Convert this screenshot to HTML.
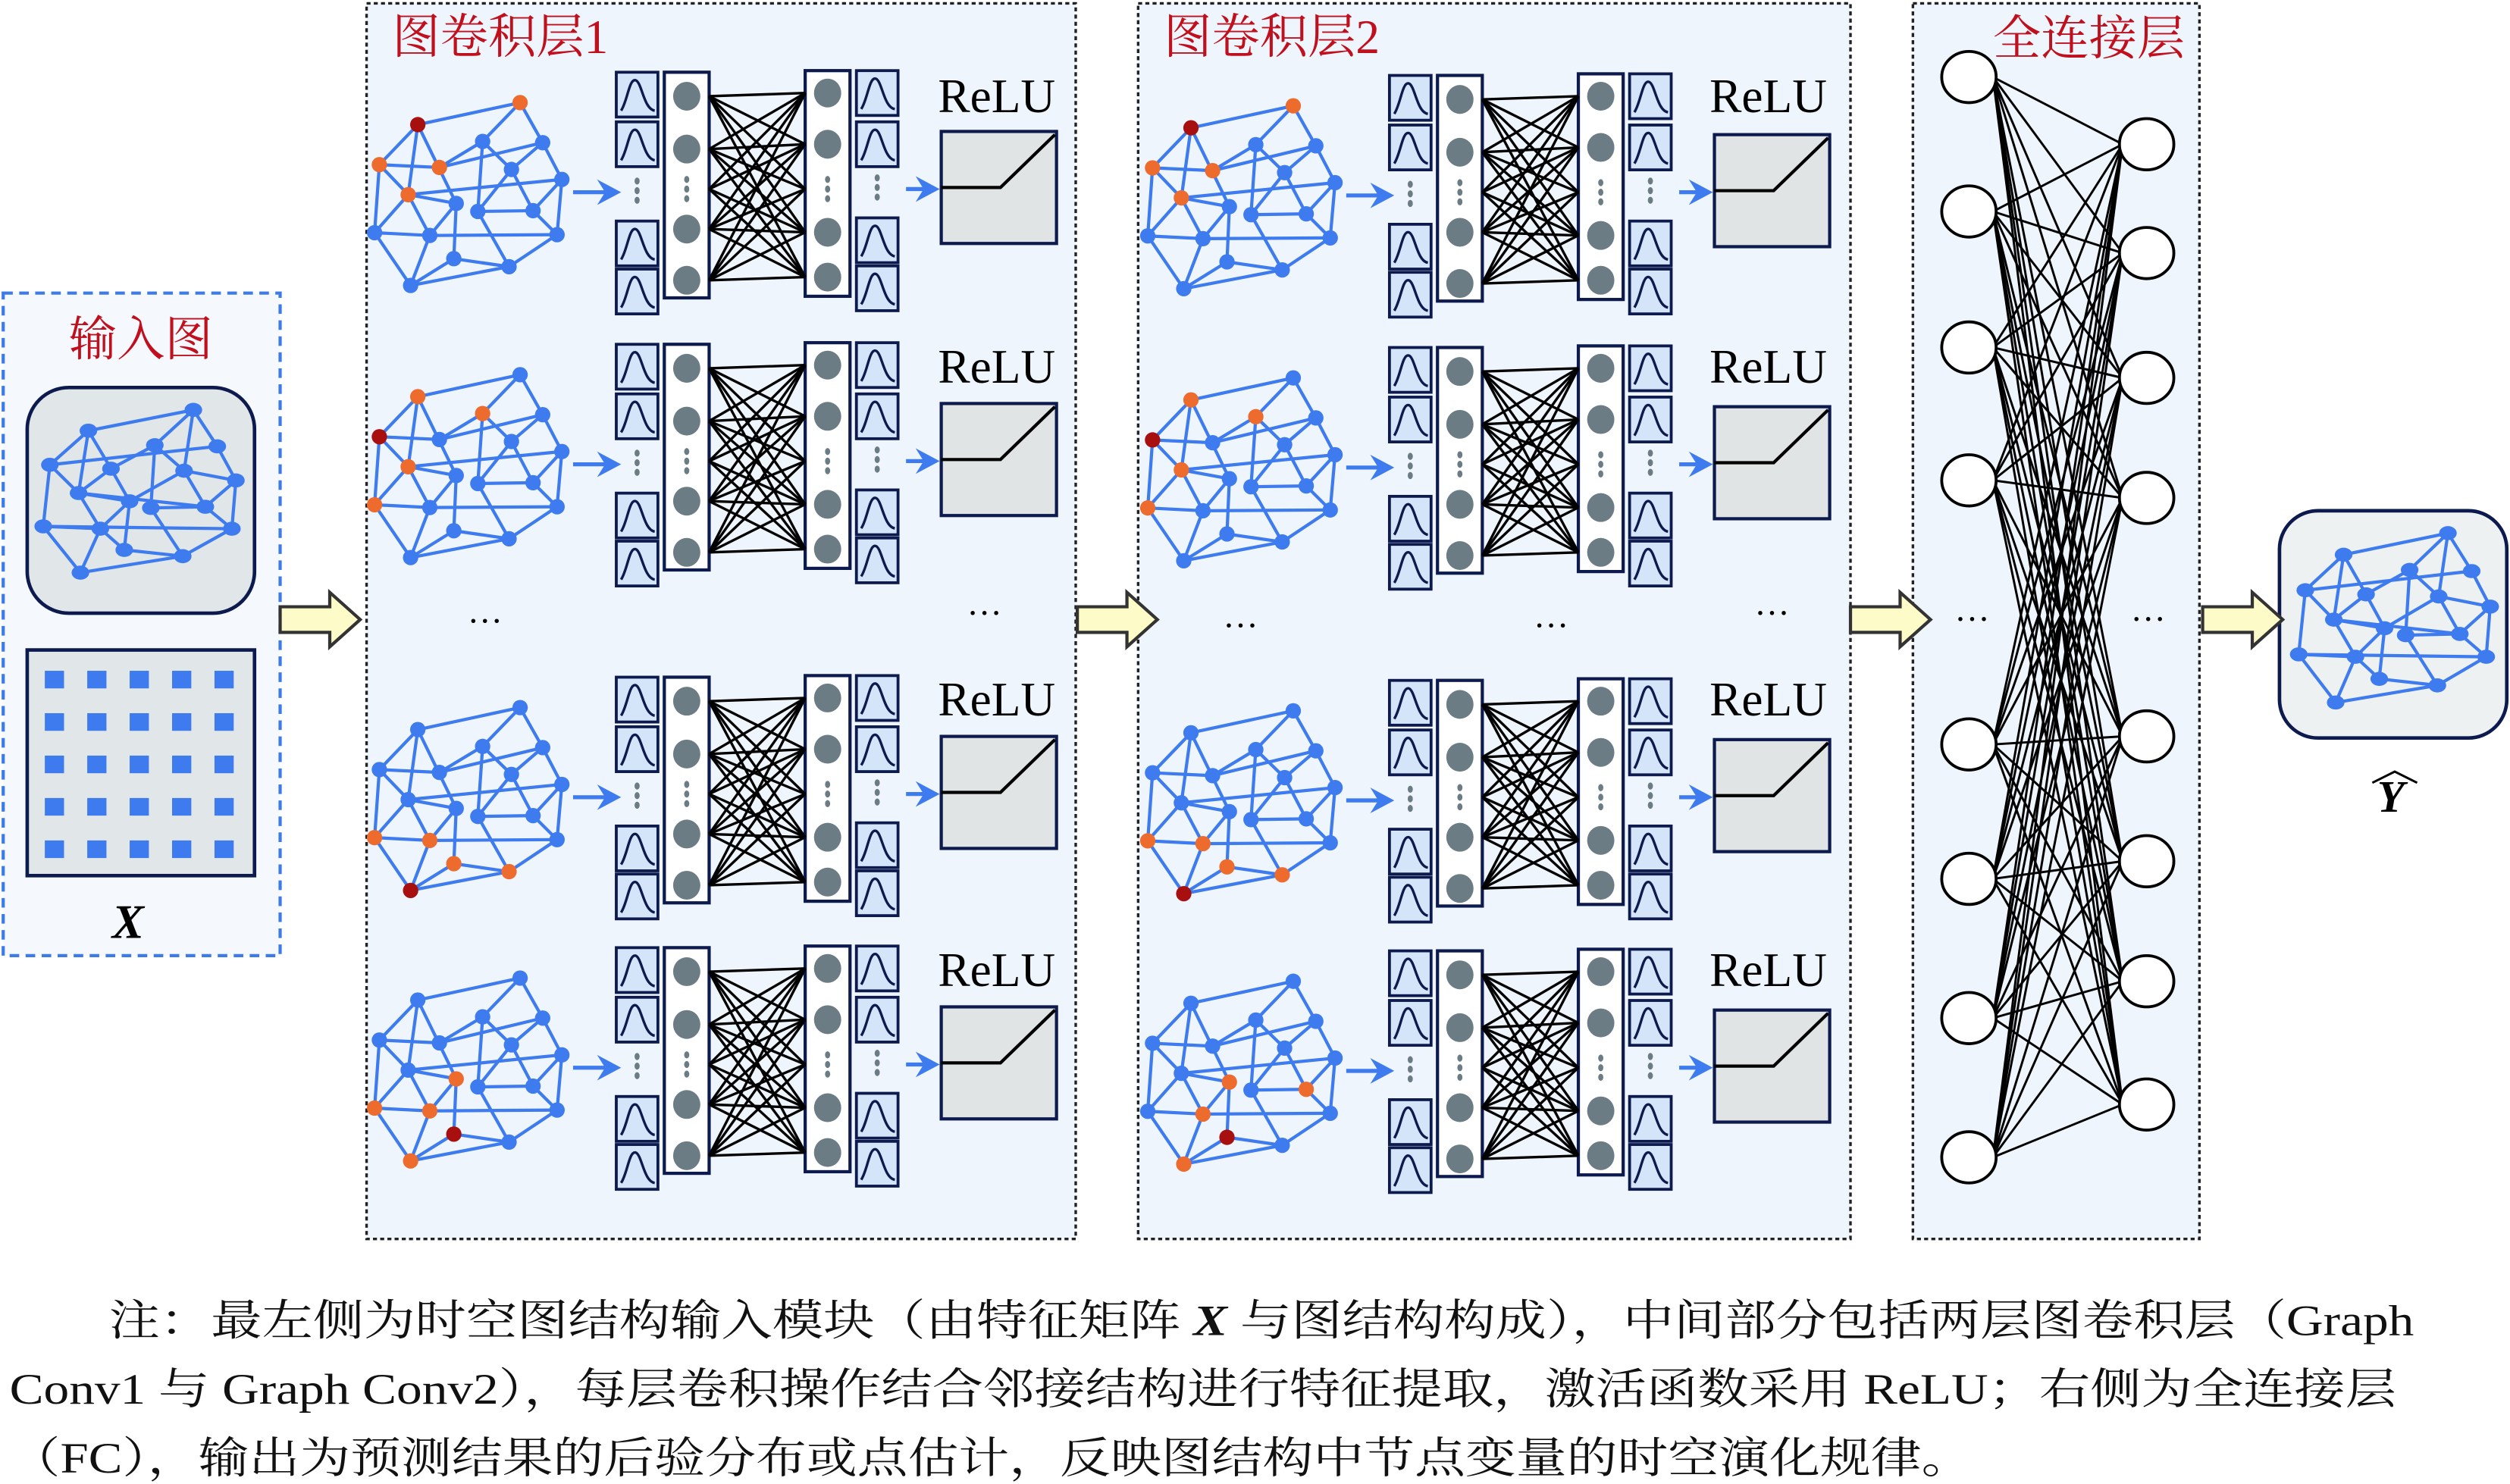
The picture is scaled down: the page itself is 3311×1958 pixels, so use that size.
<!DOCTYPE html>
<html><head><meta charset="utf-8">
<style>
html,body{margin:0;padding:0;background:#fff;}
svg{display:block;}
.cap{font-family:"Liberation Serif","Noto Serif CJK SC",serif;font-size:27px;fill:#111;}
.red{font-family:"Liberation Serif","Noto Serif CJK SC",serif;font-size:30px;fill:#c0101e;}
.relu{font-family:"Liberation Serif",serif;font-size:30px;fill:#000;}
</style></head>
<body>
<svg id="s" width="3311" height="1958" viewBox="0 0 1568 927" xmlns="http://www.w3.org/2000/svg">
<rect x="0" y="0" width="1568" height="927" fill="#fff"/>
<rect x="2" y="183" width="173" height="414" fill="#f5f8fd" stroke="#3d7be8" stroke-width="2" stroke-dasharray="6,4"/>
<rect x="17" y="242" width="142" height="141" rx="26" fill="#e1e6e8" stroke="#0d1a4d" stroke-width="2.2"/>
<rect x="17" y="406" width="142" height="141" fill="#e1e6e8" stroke="#0d1a4d" stroke-width="2.2"/>
<rect x="229" y="2" width="443" height="772" fill="#eef5fd" stroke="#222" stroke-width="1.6" stroke-dasharray="2.5,2"/>
<rect x="711" y="2" width="445" height="772" fill="#eef5fd" stroke="#222" stroke-width="1.6" stroke-dasharray="2.5,2"/>
<rect x="1195" y="2" width="179" height="772" fill="#eef5fd" stroke="#222" stroke-width="1.6" stroke-dasharray="2.5,2"/>
<rect x="1424" y="319" width="142" height="142" rx="24" fill="#eef1f2" stroke="#0d1a4d" stroke-width="2.2"/>
<g id="g"></g>
<text class="red" x="43" y="222">输入图</text>
<text x="70" y="586" font-family="Liberation Serif" font-style="italic" font-weight="bold" font-size="30">X</text>
<text class="red" x="245" y="33">图卷积层1</text>
<text class="red" x="727" y="33">图卷积层2</text>
<text class="red" x="1245" y="34">全连接层</text>
<text class="relu" x="586" y="70">ReLU</text>
<text class="relu" x="586" y="239">ReLU</text>
<text class="relu" x="586" y="447">ReLU</text>
<text class="relu" x="586" y="616">ReLU</text>
<text class="relu" x="1068" y="70">ReLU</text>
<text class="relu" x="1068" y="239">ReLU</text>
<text class="relu" x="1068" y="447">ReLU</text>
<text class="relu" x="1068" y="616">ReLU</text>
<text x="292" y="395" font-family="Liberation Serif" font-size="22">···</text>
<text x="604" y="390" font-family="Liberation Serif" font-size="22">···</text>
<text x="764" y="398" font-family="Liberation Serif" font-size="22">···</text>
<text x="958" y="398" font-family="Liberation Serif" font-size="22">···</text>
<text x="1096" y="390" font-family="Liberation Serif" font-size="22">···</text>
<text x="1221" y="394" font-family="Liberation Serif" font-size="22">···</text>
<text x="1331" y="394" font-family="Liberation Serif" font-size="22">···</text>
<text x="1485" y="507" font-family="Liberation Serif" font-style="italic" font-weight="bold" font-size="28">Y</text>
<path d="M1482 489 L1496 482 L1510 489" fill="none" stroke="#000" stroke-width="1.4"/>
<text class="cap" x="68" y="834" textLength="1440" lengthAdjust="spacingAndGlyphs">注：最左侧为时空图结构输入模块（由特征矩阵 <tspan font-weight="bold" font-style="italic">X</tspan> 与图结构构成），中间部分包括两层图卷积层（Graph</text>
<text class="cap" x="6" y="877" textLength="1491" lengthAdjust="spacingAndGlyphs">Conv1 与 Graph Conv2），每层卷积操作结合邻接结构进行特征提取，激活函数采用 ReLU；右侧为全连接层</text>
<text class="cap" x="6" y="920" textLength="1226" lengthAdjust="spacingAndGlyphs">（FC），输出为预测结果的后验分布或点估计，反映图结构中节点变量的时空演化规律。</text>
</svg>
<script>
var NS="http://www.w3.org/2000/svg",G=document.getElementById("g");
function el(t,a,p){var e=document.createElementNS(NS,t);for(var k in a)e.setAttribute(k,a[k]);(p||G).appendChild(e);return e;}
var BL="#3d7bef";
var IN=[[355,328],[750,275],[210,415],[440,425],[605,365],[840,368],[715,430],[910,455],[318,487],[510,508],[590,525],[795,522],[185,572],[400,578],[490,632],[895,578],[710,648],[325,690]];
var IE=[[0,1],[0,2],[0,8],[0,3],[1,4],[1,6],[1,5],[2,5],[2,8],[2,12],[3,9],[3,8],[4,6],[4,10],[4,3],[5,7],[6,7],[6,11],[6,9],[7,15],[7,11],[8,9],[8,13],[9,14],[9,13],[10,11],[10,16],[11,15],[12,13],[12,15],[12,17],[13,17],[13,14],[14,16],[16,15],[17,16],[8,11]];
function inGraph(ox,oy,sx,sy,r){
 for(var i=0;i<IE.length;i++){var a=IN[IE[i][0]],b=IN[IE[i][1]];
  el("line",{x1:ox+(a[0]-185)*sx,y1:oy+(a[1]-275)*sy,x2:ox+(b[0]-185)*sx,y2:oy+(b[1]-275)*sy,stroke:BL,"stroke-width":2});}
 for(var i=0;i<IN.length;i++)el("ellipse",{cx:ox+(IN[i][0]-185)*sx,cy:oy+(IN[i][1]-275)*sy,rx:r*1.25,ry:r,fill:BL});
}
inGraph(27,256,0.166,0.245,4.4);
inGraph(1436,333,0.165,0.255,4.4);
for(var i=0;i<5;i++)for(var j=0;j<5;j++)el("rect",{x:28+j*26.5,y:419+i*26.5,width:12,height:11,fill:"#3d7bef"});
var GN=[[125,330],[338,275],[45,430],[170,437],[260,372],[385,375],[105,505],[320,442],[425,467],[205,527],[250,547],[365,545],[35,600],[150,607],[415,605],[200,665],[315,685],[110,732]];
var GE=[[0,1],[0,2],[0,6],[0,9],[1,4],[1,5],[2,3],[3,5],[2,12],[2,6],[4,7],[4,10],[5,8],[5,7],[6,8],[6,9],[6,12],[6,13],[7,11],[7,10],[9,15],[10,11],[10,16],[11,14],[11,8],[12,13],[13,14],[12,17],[13,17],[9,13],[15,16],[16,14],[17,16],[8,14],[3,4],[15,17]];
function gGraph(ox,oy,col){
 var sx=0.30,sy=0.25;
 for(var i=0;i<GE.length;i++){var a=GN[GE[i][0]],b=GN[GE[i][1]];
  el("line",{x1:ox+(a[0]-35)*sx,y1:oy+(a[1]-275)*sy,x2:ox+(b[0]-35)*sx,y2:oy+(b[1]-275)*sy,stroke:BL,"stroke-width":2});}
 for(var i=0;i<GN.length;i++){var c=col[i]||BL;el("circle",{cx:ox+(GN[i][0]-35)*sx,cy:oy+(GN[i][1]-275)*sy,r:4.8,fill:c});}
}
var O="#ee6b2e",D="#a81010";
var cols=[{0:D,1:O,2:O,3:O,6:O},{2:D,0:O,4:O,6:O,12:O},{17:D,12:O,13:O,15:O,16:O},{15:D,13:O,9:O,12:O,17:O}];
var cols2=[{0:D,1:O,2:O,3:O,6:O},{2:D,0:O,4:O,6:O,12:O},{17:D,12:O,13:O,15:O,16:O},{15:D,13:O,9:O,17:O,11:O}];
var rowOff=[0,170,378,547];
function gauss(x,y,w,h){
 el("rect",{x:x,y:y,width:w,height:h,fill:"#d4e5f9",stroke:"#0d1a4d","stroke-width":1.8});
 el("path",{d:"M"+(x+3)+" "+(y+h-4)+" C"+(x+7)+" "+(y+h-10)+" "+(x+8)+" "+(y+4)+" "+(x+12)+" "+(y+5)+" C"+(x+16)+" "+(y+6)+" "+(x+17)+" "+(y+h-5)+" "+(x+w-2)+" "+(y+h-4),fill:"none",stroke:"#0d1a4d","stroke-width":1.6});
}
function arrowB(x1,x2,y){
 el("line",{x1:x1,y1:y,x2:x2-10,y2:y,stroke:BL,"stroke-width":2.5});
 el("path",{d:"M"+(x2-15)+" "+(y-8)+" L"+x2+" "+y+" L"+(x2-15)+" "+(y+8)+" L"+(x2-10)+" "+y+"Z",fill:BL});
}
function dotsV(x,y){for(var k=0;k<3;k++)el("ellipse",{cx:x,cy:y+k*6,rx:1.6,ry:2.2,fill:"#6b7c85"});}
function row(dx,dy,col){
 gGraph(234+dx,64+dy,col);
 arrowB(358+dx,388+dx,120+dy);
 var lg=[45,76,138,168],rg=[44,76,136,166];
 for(var k=0;k<4;k++){gauss(385+dx,lg[k]+dy,26,28);gauss(535+dx,rg[k]+dy,26,28);}
 dotsV(398+dx,113+dy);dotsV(548+dx,111+dy);
 el("rect",{x:415+dx,y:45+dy,width:28,height:141,fill:"#fff",stroke:"#0d1a4d","stroke-width":2});
 el("rect",{x:503+dx,y:44+dy,width:28,height:141,fill:"#fff",stroke:"#0d1a4d","stroke-width":2});
 var L=[60,93,143,175],R=[58,90,145,173];
 var Ls=L.concat([118]),Rs=R.concat([118]);
 for(var a=0;a<Ls.length;a++)for(var b=0;b<Rs.length;b++){
  if(a==4&&b==4)continue;
  el("line",{x1:443+dx,y1:Ls[a]+dy,x2:503+dx,y2:Rs[b]+dy,stroke:"#000","stroke-width":1.6});}
 for(var k=0;k<4;k++){el("ellipse",{cx:429+dx,cy:L[k]+dy,rx:8.5,ry:9,fill:"#6b7c85"});el("ellipse",{cx:517+dx,cy:R[k]+dy,rx:8.5,ry:9,fill:"#6b7c85"});}
 dotsV(429+dx,112+dy);dotsV(517+dx,112+dy);
 arrowB(566+dx,587+dx,118+dy);
 el("rect",{x:588+dx,y:82+dy,width:72,height:70,fill:"#e1e4e4",stroke:"#0d1a4d","stroke-width":2});
 el("path",{d:"M588 "+(117+dy)+" L625 "+(117+dy)+" L659 "+(84+dy),transform:"translate("+dx+",0)",fill:"none",stroke:"#000","stroke-width":2});
}
for(var r=0;r<4;r++){row(0,rowOff[r],cols[r]);row(483,rowOff[r]+2,cols2[r]);}
var FL=[48,132,217,300,465,549,636,723],FR=[90,158,236,311,460,538,613,690];
for(var a=0;a<8;a++)for(var b=0;b<8;b++)el("line",{x1:1245,y1:FL[a],x2:1326,y2:FR[b],stroke:"#000","stroke-width":1.4});
for(var a=0;a<8;a++)el("ellipse",{cx:1230,cy:FL[a],rx:17,ry:16,fill:"#fff",stroke:"#000","stroke-width":1.8});
for(var b=0;b<8;b++)el("ellipse",{cx:1341,cy:FR[b],rx:17,ry:16,fill:"#fff",stroke:"#000","stroke-width":1.8});
function yArrow(x,y){el("path",{d:"M"+x+" "+(y-8)+" L"+(x+31)+" "+(y-8)+" L"+(x+31)+" "+(y-17)+" L"+(x+50)+" "+y+" L"+(x+31)+" "+(y+17)+" L"+(x+31)+" "+(y+8)+" L"+x+" "+(y+8)+"Z",fill:"#fdfbc8",stroke:"#333","stroke-width":2});}
yArrow(175,387);yArrow(673,387);yArrow(1156,387);yArrow(1376,387);
</script>
</body></html>
